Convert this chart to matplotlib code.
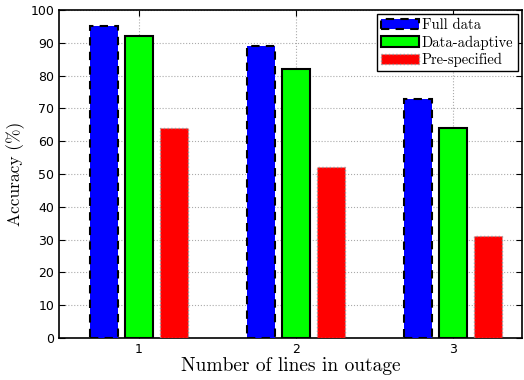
import numpy as np
import matplotlib
matplotlib.use('Agg')
import matplotlib.pyplot as plt

# values
groups = [1, 2, 3]
full_data = [95, 89, 73]
data_adaptive = [92, 82, 64]
pre_specified = [64, 52, 31]
series_names = ['Full data', 'Data-adaptive', 'Pre-specified']

fig = plt.figure(figsize=(5.24, 3.8), dpi=100)
ax = fig.add_axes([59/524, 42/380, 463/524, 328/380])

x = np.array(groups, dtype=float)
w = 0.178
off = 0.223
ax.bar(x - off, full_data, w, color='#0000ff', edgecolor='black', linestyle=(0, (4, 3)), linewidth=1.5, label=series_names[0], zorder=3)
ax.bar(x, data_adaptive, w, color='#00ff00', edgecolor='black', linestyle='-', linewidth=1.5, label=series_names[1], zorder=3)
ax.bar(x + off, pre_specified, w, color='#ff0000', edgecolor='#999999', linestyle=':', linewidth=1.0, label=series_names[2], zorder=3)

ax.set_xlim(0.49, 3.44)
ax.set_ylim(0, 100)
ax.set_xticks(groups)
ax.set_yticks(np.arange(0, 101, 10))
ax.tick_params(direction='in', top=True, right=True, labelsize=9, length=4)
ax.grid(True, linestyle=':', color='#aaaaaa', linewidth=0.8, zorder=0)
for s in ax.spines.values():
    s.set_linewidth(1.2)

ax.set_xlabel('Number of lines in outage', family='cmr10', fontsize=14, labelpad=1)
ax.set_ylabel('Accuracy (%)', family='cmr10', fontsize=12.5)

leg = ax.legend(loc='upper right', prop={'family': 'cmr10', 'size': 10.5},
                fancybox=False, edgecolor='black', framealpha=1,
                borderpad=0.3, labelspacing=0.2, handlelength=2.6, handletextpad=0.2,
                borderaxespad=0.3)
leg.get_frame().set_linewidth(1.0)

fig.savefig('out.png', dpi=100)
